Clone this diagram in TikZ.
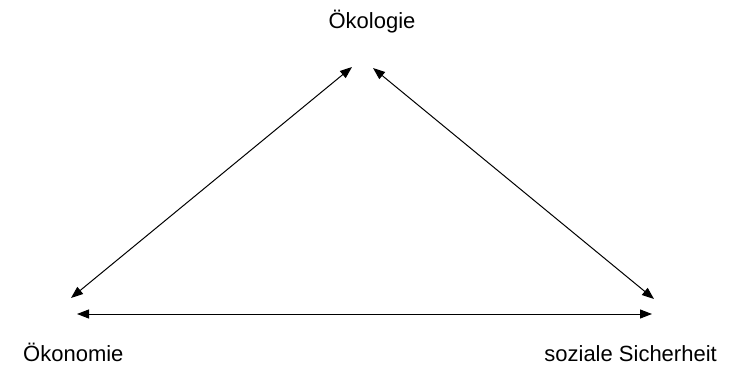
\documentclass[tikz,border=0pt]{standalone}
\usepackage{fontspec}
\setmainfont{Liberation Sans}
\usetikzlibrary{arrows.meta}
\begin{document}
\begin{tikzpicture}[x=1pt,y=-1pt,
  lbl/.style={inner sep=0pt,font=\fontsize{22}{26}\selectfont},
  conn/.style={line width=1pt,{Triangle[length=12pt,width=9pt]}-{Triangle[length=12pt,width=9pt]}}]
\useasboundingbox (0,0) rectangle (736,366);
\node[lbl,anchor=base] (oko) at (372,29) {Ökologie};
\node[lbl,anchor=base west] (eco) at (23,361) {Ökonomie};
\node[lbl,anchor=base east] (soz) at (717,361) {soziale Sicherheit};
\coordinate (tl) at (352,67);
\coordinate (tr) at (373,68);
\coordinate (bl) at (71,298);
\coordinate (br) at (654,299);
\coordinate (hl) at (77,314);
\coordinate (hr) at (652,314);
\draw[conn] (bl) -- (tl);
\draw[conn] (tr) -- (br);
\draw[conn] (hl) -- (hr);
\end{tikzpicture}
\end{document}
